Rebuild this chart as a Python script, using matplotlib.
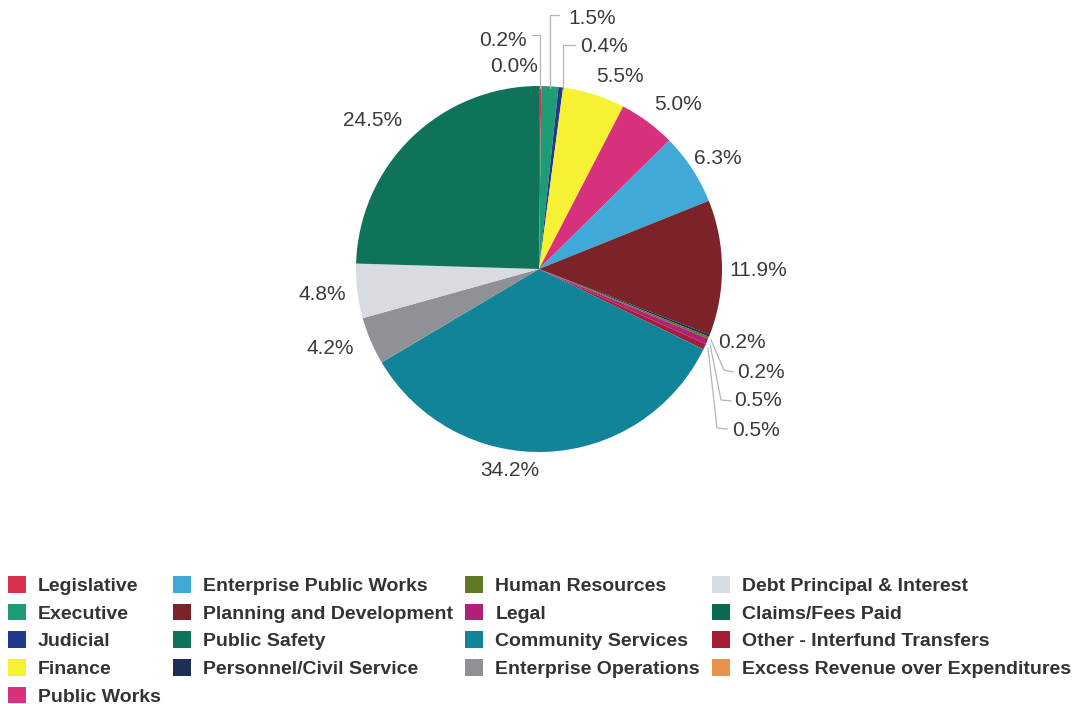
import matplotlib.pyplot as plt
from matplotlib.patches import Patch

# legend order (column-major, 4 columns)
categories = [
    "Legislative", "Executive", "Judicial", "Finance", "Public Works",
    "Enterprise Public Works", "Planning and Development", "Public Safety",
    "Personnel/Civil Service", "Human Resources", "Legal", "Community Services",
    "Enterprise Operations", "Debt Principal & Interest", "Claims/Fees Paid",
    "Other - Interfund Transfers", "Excess Revenue over Expenditures",
]
colors = [
    "#d8314d", "#1e9c76", "#1f3a8c", "#f6f233", "#d8327e",
    "#3faad8", "#7b2329", "#0e7358", "#1d2e58", "#5e7a22",
    "#b3207c", "#12849a", "#8f9197", "#d8dbdf", "#0b6a54",
    "#a41e37", "#e8934b",
]
# percent of total
shares = {
    "Legislative": 0.2, "Executive": 1.5, "Judicial": 0.4, "Finance": 5.5,
    "Public Works": 5.0, "Enterprise Public Works": 6.3,
    "Planning and Development": 11.9, "Personnel/Civil Service": 0.2,
    "Human Resources": 0.2, "Legal": 0.5, "Other - Interfund Transfers": 0.5,
    "Community Services": 34.2, "Enterprise Operations": 4.2,
    "Debt Principal & Interest": 4.8, "Public Safety": 24.5,
    "Claims/Fees Paid": 0.0, "Excess Revenue over Expenditures": 0.0,
}
# clockwise from 12 o'clock
slice_order = [
    "Legislative", "Executive", "Judicial", "Finance", "Public Works",
    "Enterprise Public Works", "Planning and Development",
    "Personnel/Civil Service", "Human Resources", "Legal",
    "Other - Interfund Transfers", "Community Services",
    "Enterprise Operations", "Debt Principal & Interest", "Public Safety",
    "Claims/Fees Paid", "Excess Revenue over Expenditures",
]

W, H = 1073, 704
cx, cy, R = 539, 269, 183

fig = plt.figure(figsize=(W / 100, H / 100), dpi=100)
ax = fig.add_axes([(cx - R) / W, 1 - (cy + R) / H, 2 * R / W, 2 * R / H])

col = dict(zip(categories, colors))
vals = [shares[c] for c in slice_order]
ax.pie(vals, colors=[col[c] for c in slice_order], startangle=90,
       counterclock=False, radius=1, wedgeprops=dict(linewidth=0))
ax.set_xlim(-1, 1)
ax.set_ylim(-1, 1)
ax.axis("off")


def px(x, y):
    return (x - cx) / R, (cy - y) / R


# label centres in pixels
label_px = {
    "Legislative": (503, 40), "Executive": (592, 19), "Judicial": (604, 46),
    "Finance": (620, 77), "Public Works": (678, 104),
    "Enterprise Public Works": (718, 158), "Planning and Development": (758, 271),
    "Personnel/Civil Service": (742, 343), "Human Resources": (761, 372),
    "Legal": (758, 401), "Other - Interfund Transfers": (756, 430),
    "Community Services": (510, 471), "Enterprise Operations": (330, 348),
    "Debt Principal & Interest": (322, 295), "Public Safety": (373, 121),
    "Claims/Fees Paid": (514, 66),
}
for name, (x, y) in label_px.items():
    tx, ty = px(x, y)
    ax.text(tx, ty, f"{shares[name]:.1f}%", ha="center", va="center",
            fontsize=15, family="Liberation Sans", color="#3a3a3a",
            clip_on=False)

# leader lines (pixel paths)
leaders = [
    [(532, 35), (540, 35), (540, 88)],
    [(559, 15), (550, 15), (550, 88)],
    [(575, 45), (563, 45), (563, 89)],
    [(711, 340), (724, 370), (733, 372)],
    [(710, 344), (721, 400), (731, 401)],
    [(708, 348), (717, 428), (727, 429)],
]
for path in leaders:
    xs, ys = zip(*[px(x, y) for x, y in path])
    ax.plot(xs, ys, color="#b5b5b5", lw=0.9, clip_on=False)

handles = [Patch(facecolor=c, edgecolor="none", label=n)
           for n, c in zip(categories, colors)]
fig.legend(handles=handles, loc="upper left",
           bbox_to_anchor=(8 / W, 1 - 576 / H), ncol=4, frameon=False,
           prop=dict(family="Liberation Sans", weight="bold", size=14),
           labelcolor="#333333", handlelength=0.93, handleheight=0.93,
           handletextpad=0.62, columnspacing=0.62, labelspacing=0.45,
           borderpad=0, borderaxespad=0)

fig.savefig("out.png", dpi=100, facecolor="white")
